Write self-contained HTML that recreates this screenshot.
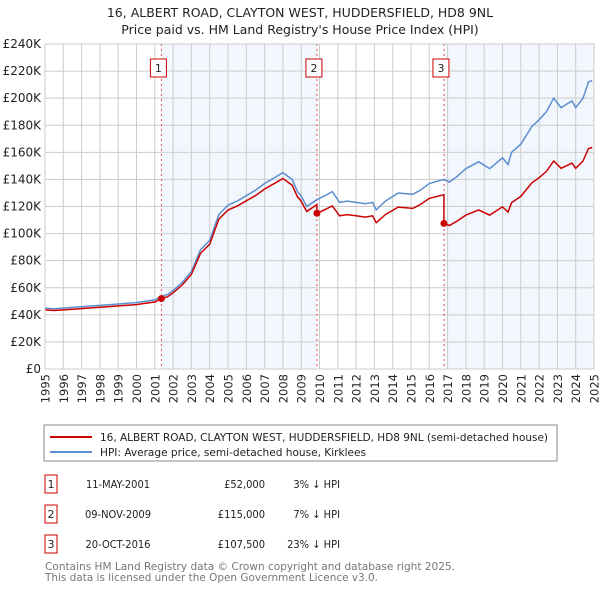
<!DOCTYPE html>
<html><head><meta charset="utf-8">
<style>
body{margin:0;background:#fff;font-family:"Liberation Sans","DejaVu Sans",sans-serif;}
svg text{font-family:"DejaVu Sans","Liberation Sans",sans-serif;}
svg text.n{font-family:"DejaVu Sans Condensed","Liberation Sans",sans-serif;}
</style></head>
<body>
<svg id="chart" width="600" height="590" xmlns="http://www.w3.org/2000/svg">
<text x="300" y="17" text-anchor="middle" font-size="12.5" fill="#222">16, ALBERT ROAD, CLAYTON WEST, HUDDERSFIELD, HD8 9NL</text>
<text x="300" y="34" text-anchor="middle" font-size="12.5" fill="#222">Price paid vs. HM Land Registry's House Price Index (HPI)</text>
<g id="shade"></g><g id="grid"></g><g id="vlines"></g><g id="lines"></g><g id="ticks"></g>
<g>
<rect x="44" y="425" width="513" height="36" fill="#fff" stroke="#888"/>
<line x1="50" y1="437" x2="92" y2="437" stroke="#cc0000" stroke-width="2"/>
<text class="n" x="100" y="441" font-size="11" fill="#222" textLength="448" lengthAdjust="spacingAndGlyphs">16, ALBERT ROAD, CLAYTON WEST, HUDDERSFIELD, HD8 9NL (semi-detached house)</text>
<line x1="50" y1="452" x2="92" y2="452" stroke="#5b8fd0" stroke-width="2"/>
<text class="n" x="100" y="456" font-size="11" fill="#222" textLength="266" lengthAdjust="spacingAndGlyphs">HPI: Average price, semi-detached house, Kirklees</text>
</g>
<g id="table"></g>
<text class="n" x="45" y="570" font-size="11" fill="#777" textLength="410" lengthAdjust="spacingAndGlyphs">Contains HM Land Registry data © Crown copyright and database right 2025.</text>
<text class="n" x="45" y="581" font-size="11" fill="#777" textLength="333" lengthAdjust="spacingAndGlyphs">This data is licensed under the Open Government Licence v3.0.</text>
</svg>
<script>
const hpiYears=[1995,1995.5,1996,1996.5,1997,1997.5,1998,1998.5,1999,1999.5,2000,2000.5,2001,2001.36,2001.7,2002,2002.5,2003,2003.5,2004,2004.5,2005,2005.5,2006,2006.5,2007,2007.5,2008,2008.5,2008.8,2008.96,2009.3,2009.85,2010.3,2010.7,2011.1,2011.5,2012,2012.5,2012.9,2013.1,2013.6,2014.3,2015.1,2015.5,2016,2016.8,2017.1,2017.5,2018,2018.7,2019.3,2020,2020.3,2020.5,2021,2021.6,2022,2022.4,2022.8,2023.2,2023.8,2024,2024.4,2024.7,2024.9];
const hpiValues=[45,44.5,45,45.5,46,46.5,47,47.5,48,48.5,49,50,51,53.6,55,58,64,72,88,95,114,121,124,128,132,137,141,145,140,131,128.5,120,125,128,131,123,124,123,122,123,117.5,124,130,129,132,137,140,138,142,148,153,148,156,151,160,166,179,184,190,200,193,198,193,200,212,213];
const saleYears=[2001.36,2009.86,2016.8];
const salePrices=[52,115,107.5];
const saleLabels=["1","2","3"];
const saleDates=["11-MAY-2001","09-NOV-2009","20-OCT-2016"];
const salePriceText=["£52,000","£115,000","£107,500"];
const salePct=["3% ↓ HPI","7% ↓ HPI","23% ↓ HPI"];
const yTicks=[0,20,40,60,80,100,120,140,160,180,200,220,240];
const xTicks=[1995,1996,1997,1998,1999,2000,2001,2002,2003,2004,2005,2006,2007,2008,2009,2010,2011,2012,2013,2014,2015,2016,2017,2018,2019,2020,2021,2022,2023,2024,2025];

const L=45,R=594,T=44,B=369,X0=1995,X1=2025,Ymax=240;
const xs=y=>L+(y-X0)/(X1-X0)*(R-L);
const ys=v=>B-v/Ymax*(B-T);
const NS="http://www.w3.org/2000/svg";
function mk(tag,attrs,parent,text){const e=document.createElementNS(NS,tag);for(const k in attrs)e.setAttribute(k,attrs[k]);if(text!==undefined)e.textContent=text;(typeof parent==='string'?document.getElementById(parent):parent).appendChild(e);return e;}
function hpiAt(t){for(let i=1;i<hpiYears.length;i++){if(t<=hpiYears[i]){const a=hpiYears[i-1],b=hpiYears[i];return hpiValues[i-1]+(hpiValues[i]-hpiValues[i-1])*(t-a)/(b-a);}}return hpiValues[hpiValues.length-1];}

[[saleYears[0],saleYears[1]],[saleYears[2],X1]].forEach((s,i)=>{
const r=mk('rect',{x:xs(s[0]),y:T,width:xs(s[1])-xs(s[0]),height:B-T,fill:'#eef3fc',opacity:0.75},'shade');


});
xTicks.forEach(t=>{const l=mk('line',{x1:xs(t),x2:xs(t),y1:T,y2:B,stroke:'#ccc','stroke-width':1},'grid');


const g=mk('g',{transform:'translate('+(xs(t)+4.5)+','+(B+5)+') rotate(-90)'},'ticks');
const tx=mk('text',{x:0,y:0,'font-size':11.5,fill:'#222','text-anchor':'end'},g,String(t));


});
yTicks.forEach(v=>{const l=mk('line',{x1:L,x2:R,y1:ys(v),y2:ys(v),stroke:'#ccc','stroke-width':1},'grid');


const tx=mk('text',{x:L-4,y:ys(v)+4,'font-size':12,fill:'#222','text-anchor':'end'},'ticks',v===0?'£0':'£'+v+'K');


});
saleYears.forEach((s,i)=>{
const l=mk('line',{x1:xs(s),x2:xs(s),y1:T,y2:B,stroke:'#e05050','stroke-width':1,'stroke-dasharray':'2,3'},'vlines');


const bx=mk('rect',{x:xs(s)-11,y:59,width:16,height:18,fill:'#fff',stroke:'#cc0000'},'vlines');


const tx=mk('text',{x:xs(s)-3,y:72,'font-size':11,fill:'#222','text-anchor':'middle'},'vlines',saleLabels[i]);


});
let d=hpiYears.map((t,i)=>(i?'L':'M')+xs(t).toFixed(1)+','+ys(hpiValues[i]).toFixed(1)).join(' ');
const hp=mk('path',{d:d,fill:'none',stroke:'#5b8fd0','stroke-width':1.5},'lines');


let pts=[];
hpiYears.forEach((t,i)=>{let k=0;for(let j=0;j<saleYears.length;j++)if(t>=saleYears[j])k=j;pts.push([t,salePrices[k]*hpiValues[i]/hpiAt(saleYears[k])]);});
saleYears.forEach((s,j)=>{if(j>0)pts.push([s-0.001,salePrices[j-1]*hpiAt(s)/hpiAt(saleYears[j-1])]);pts.push([s,salePrices[j]]);});
pts.sort((a,b)=>a[0]-b[0]);
d=pts.map((p,i)=>(i?'L':'M')+xs(p[0]).toFixed(1)+','+ys(p[1]).toFixed(1)).join(' ');
const pp=mk('path',{d:d,fill:'none',stroke:'#cc0000','stroke-width':1.5},'lines');


saleYears.forEach((s,i)=>{const c=mk('circle',{cx:xs(s),cy:ys(salePrices[i]),r:3.5,fill:'#cc0000'},'lines');


});
const bd=mk('rect',{x:L,y:T,width:R-L,height:B-T,fill:'none',stroke:'#ccc'},'lines');


saleLabels.forEach((lab,i)=>{const y=488+i*30;
const b=mk('rect',{x:45,y:y-13,width:12,height:18,fill:'#fff',stroke:'#cc0000'},'table');


mk('text',{x:51,y:y,'font-size':11,'text-anchor':'middle',fill:'#222'},'table',lab);
const a=mk('text',{class:'n',x:118,y:y,'font-size':11,'text-anchor':'middle',fill:'#222'},'table',saleDates[i]);


const p=mk('text',{class:'n',x:265,y:y,'font-size':11,'text-anchor':'end',fill:'#222'},'table',salePriceText[i]);


const q=mk('text',{class:'n',x:340,y:y,'font-size':11,'text-anchor':'end',fill:'#222'},'table',salePct[i]);


});
</script>
</body></html>
